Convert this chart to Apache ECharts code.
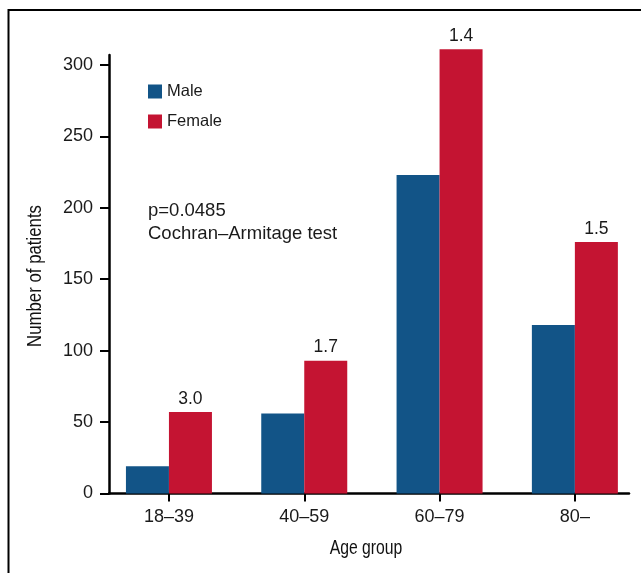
<!DOCTYPE html>
<html>
<head>
<meta charset="utf-8">
<script src="https://cdn.jsdelivr.net/npm/echarts@6/dist/echarts.min.js"></script>
<style>
html,body{margin:0;padding:0;background:#fff;}
#chart{width:641px;height:573px;}
</style>
</head>
<body>
<div id="chart"></div>
<script>
const categories = ['18\u201339', '40\u201359', '60\u201379', '80\u2013'];
const maleValues = [19, 56, 223, 118];
const femaleValues = [57, 93, 311, 176];
const ratioLabels = ['3.0', '1.7', '1.4', '1.5'];
const yTicks = [0, 50, 100, 150, 200, 250, 300];
const seriesNames = ['Male', 'Female'];
const annotation = ['p=0.0485', 'Cochran\u2013Armitage test'];
const xAxisTitle = 'Age group';
const yAxisTitle = 'Number of patients';

const catIdx = categories.map((c, i) => i);
const mainFont = 'Liberation Sans, Arial, sans-serif';

const chart = echarts.init(document.getElementById('chart'), null, {renderer: 'canvas'});
chart.setOption({
  animation: false,
  backgroundColor: '#fff',
  title: {
    text: annotation.join('\n'),
    left: 148, top: 199.5, padding: 0,
    textStyle: {fontFamily: mainFont, fontSize: 18.5, fontWeight: 'normal', color: '#1a1a1a', lineHeight: 23}
  },
  legend: {
    orient: 'vertical', left: 148, top: 83, padding: 0,
    itemWidth: 14, itemHeight: 14, itemGap: 13, itemTextGap: 6,
    icon: 'rect',
    textStyle: {fontFamily: mainFont, fontSize: 16.5, color: '#1a1a1a', lineHeight: 15},
    data: seriesNames
  },
  grid: {left: 109, right: 12, top: 55, bottom: 79.5, containLabel: false},
  xAxis: {
    type: 'value', min: -0.443, max: 3.4,
    splitLine: {show: false},
    axisLine: {onZero: false, lineStyle: {color: '#000', width: 2.5}},
    axisTick: {show: true, length: 8, lineStyle: {color: '#000', width: 2}, customValues: catIdx},
    axisLabel: {
      customValues: catIdx, margin: 15,
      fontFamily: mainFont, fontSize: 18, color: '#1a1a1a',
      formatter: v => categories[Math.round(v)]
    }
  },
  yAxis: {
    type: 'value', min: 0, max: 307,
    splitLine: {show: false},
    axisLine: {show: true, onZero: false, lineStyle: {color: '#000', width: 2.5}},
    axisTick: {show: true, length: 9, lineStyle: {color: '#000', width: 2}, customValues: yTicks},
    axisLabel: {customValues: yTicks, margin: 16, fontFamily: mainFont, fontSize: 18, color: '#1a1a1a'}
  },
  graphic: [
    {
      type: 'rect', silent: true, z: 100,
      shape: {x: 8.5, y: 10, width: 1000, height: 1000},
      style: {fill: 'none', stroke: '#000', lineWidth: 2}
    },
    {
      type: 'text', silent: true, x: 366, y: 548, scaleX: 0.75,
      style: {text: xAxisTitle, font: '21px ' + mainFont, fill: '#111', textAlign: 'center', textVerticalAlign: 'middle'}
    },
    {
      type: 'text', silent: true, x: 35, y: 276, rotation: Math.PI / 2, scaleX: 0.8,
      style: {text: yAxisTitle, font: '21px ' + mainFont, fill: '#111', textAlign: 'center', textVerticalAlign: 'middle'}
    }
  ],
  series: [
    {
      name: seriesNames[0], type: 'bar', barWidth: 43, barGap: '0%', clip: false,
      itemStyle: {color: '#125487'},
      data: maleValues.map((v, i) => [catIdx[i], v])
    },
    {
      name: seriesNames[1], type: 'bar', barWidth: 43, barGap: '0%', clip: false,
      itemStyle: {color: '#C41432'},
      label: {
        show: true, position: 'top', distance: 4,
        fontFamily: mainFont, fontSize: 17.5, color: '#1a1a1a',
        formatter: p => ratioLabels[p.dataIndex]
      },
      data: femaleValues.map((v, i) => [catIdx[i], v])
    }
  ]
});
</script>
</body>
</html>
